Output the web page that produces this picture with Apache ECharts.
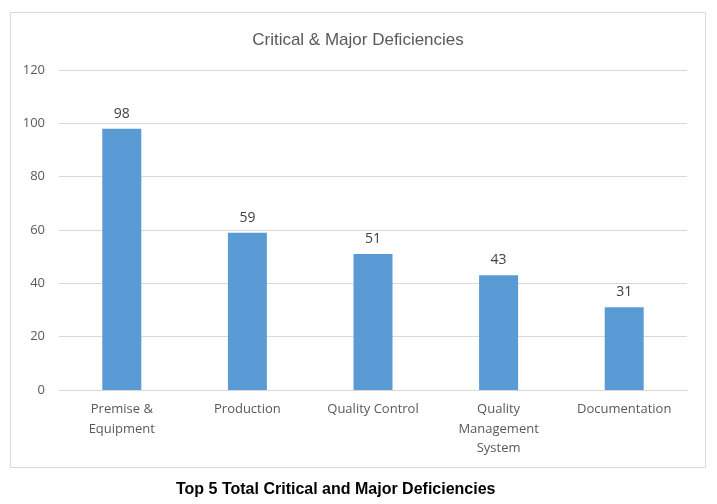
<!DOCTYPE html>
<html>
<head>
<meta charset="utf-8">
<style>
  html, body { margin: 0; padding: 0; background: #fff; }
  #chart { width: 717px; height: 504px; }
</style>
<script src="https://cdn.jsdelivr.net/npm/echarts@6/dist/echarts.min.js"></script>
</head>
<body>
<div id="chart"></div>
<script>
// data
var categories = ['Premise &\nEquipment', 'Production', 'Quality Control', 'Quality\nManagement\nSystem', 'Documentation'];
var values = [98, 59, 51, 43, 31];
var yTicks = [0, 20, 40, 60, 80, 100, 120];

var chart = echarts.init(document.getElementById('chart'));
var bodyFont = '"Open Sans", "DejaVu Sans", sans-serif';

var option = {
    backgroundColor: '#fff',
    animation: false,
    title: {
        text: 'Critical & Major Deficiencies',
        left: 353,
        top: 27,
        textAlign: 'center',
        textStyle: {
            fontFamily: '"Liberation Sans Narrow", "Liberation Sans", Arial, sans-serif',
            fontWeight: 'normal',
            fontSize: 17,
            color: '#595959'
        }
    },
    graphic: [
        {   // frame around the chart
            type: 'rect',
            shape: { x: 10.5, y: 12.5, width: 695, height: 455 },
            style: { fill: null, stroke: '#d9d9d9', lineWidth: 1 },
            silent: true
        },
        {   // caption under the frame
            type: 'text',
            left: 176,
            top: 482,
            style: {
                text: 'Top 5 Total Critical and Major Deficiencies',
                font: 'bold 16px "Liberation Sans", Arial, sans-serif',
                fill: '#000'
            }
        }
    ],
    grid: {
        left: 59,
        right: 30,
        top: 70,
        bottom: 114,
        containLabel: false
    },
    xAxis: {
        type: 'category',
        data: categories,
        axisTick: { show: false },
        axisLine: { lineStyle: { color: '#d9d9d9', width: 1 } },
        axisLabel: {
            interval: 0,
            margin: 10,
            fontFamily: bodyFont,
            fontSize: 13,
            lineHeight: 19.5,
            color: '#595959'
        }
    },
    yAxis: {
        type: 'value',
        min: yTicks[0],
        max: yTicks[yTicks.length - 1],
        interval: yTicks[1] - yTicks[0],
        axisLine: { show: false },
        axisTick: { show: false },
        splitLine: { lineStyle: { color: '#d9d9d9', width: 1 } },
        axisLabel: {
            margin: 14,
            fontFamily: bodyFont,
            fontSize: 13,
            color: '#595959'
        }
    },
    series: [{
        type: 'bar',
        data: values,
        barWidth: 39,
        itemStyle: { color: '#5b9bd5' },
        label: {
            show: true,
            position: 'top',
            distance: 8,
            fontFamily: bodyFont,
            fontSize: 14,
            color: '#404040'
        }
    }]
};

chart.setOption(option);
</script>
</body>
</html>
